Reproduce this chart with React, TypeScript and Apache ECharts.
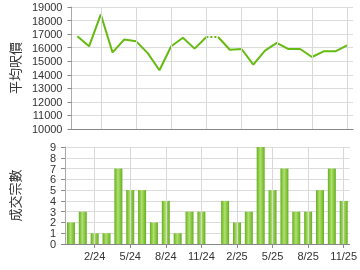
import React, { useEffect, useRef } from "react";
import * as echarts from "echarts";

const months = [
  "12/23", "1/24", "2/24", "3/24", "4/24", "5/24", "6/24", "7/24", "8/24", "9/24", "10/24", "11/24",
  "12/24", "1/25", "2/25", "3/25", "4/25", "5/25", "6/25", "7/25", "8/25", "9/25", "10/25", "11/25",
];
const avgPrice: (number | null)[] = [
  16850, 16100, 18450, 15650, 16600, 16480, 15600, 14330, 16100, 16730, 15930, 16790,
  16790, 15850, 15900, 14750, 15780, 16350, 15900, 15900, 15310, 15730, 15730, 16170,
];
const deals = [2, 3, 1, 1, 7, 5, 5, 2, 4, 1, 3, 3, 0, 4, 2, 3, 9, 5, 7, 3, 3, 5, 7, 4];
const carriedIndex = 12; // month with no deals: price carried over (dotted)
const gridMonths = [2, 5, 8, 11, 14, 17, 20, 23]; // category indexes with vertical grid lines
const dealsMax = 9;

const lineColor = "#66bb11";
const font = "Liberation Sans";

export default function App() {
  const ref = useRef<HTMLDivElement>(null);
  useEffect(() => {
    if (!ref.current) return;
    const chart = echarts.init(ref.current, null, { renderer: "svg" });
    const showIdx = (i: number) => (i - 2) % 3 === 0;
    const solidA = avgPrice.map((v, i) => (i < carriedIndex ? v : null));
    const solidB = avgPrice.map((v, i) => (i >= carriedIndex ? v : null));
    const dotted = avgPrice.map((v, i) => (i === carriedIndex - 1 || i === carriedIndex ? v : null));
    const xBase = {
      type: "category",
      data: months,
      boundaryGap: true,
      axisLine: { show: true, lineStyle: { color: "#888", width: 1 } },
      axisTick: { show: true, interval: showIdx, alignWithLabel: true, length: 4, lineStyle: { color: "#888" } },
      splitLine: { show: false },
    };
    const labelStyle = {
      fontSize: 11, color: "#333", fontFamily: font, margin: 9,
      formatter: (v: number) => String(v),
    };
    const yBase = {
      type: "value",
      nameLocation: "middle",
      nameRotate: 90,
      nameTextStyle: { fontSize: 13, color: "#333", fontFamily: "Noto Sans CJK TC" },
      axisLine: { show: true, lineStyle: { color: "#aaa" } },
      axisTick: { show: true, length: 4, lineStyle: { color: "#888" } },
      axisLabel: { ...labelStyle, showMinLabel: true, showMaxLabel: true },
      splitLine: { show: true, lineStyle: { color: "#dcdcdc", width: 1 } },
    };
    const vLines = (axisIdx: number, yIdx: number) => ({
      type: "line", xAxisIndex: axisIdx, yAxisIndex: yIdx, data: [], z: 1, silent: true,
      markLine: {
        silent: true, symbol: "none", label: { show: false }, animation: false,
        lineStyle: { color: "#d8d8d8", width: 1, type: "solid" },
        data: gridMonths.map((i) => ({ xAxis: i })),
      },
    });
    chart.setOption({
      animation: false,
      grid: [
        { left: 65, right: 7, top: 7, height: 122 },
        { left: 65, right: 7, top: 147, height: 97 },
      ],
      xAxis: [
        { ...xBase, gridIndex: 0, axisLabel: { show: false }, axisTick: { show: false } },
        {
          ...xBase,
          gridIndex: 1,
          axisLabel: { show: true, interval: showIdx, fontSize: 11, color: "#333", fontFamily: font, margin: 6 },
        },
      ],
      yAxis: [
        { ...yBase, gridIndex: 0, min: 10000, max: 19000, interval: 1000, name: "平均呎價", nameGap: 46 },
        {
          ...yBase, gridIndex: 1, min: 0, max: dealsMax, interval: 1, name: "成交宗數", nameGap: 44,
          axisLabel: { ...labelStyle, showMinLabel: false, showMaxLabel: false },
        },
        {
          type: "value", gridIndex: 1, position: "left", min: 0, max: dealsMax, interval: dealsMax,
          axisLine: { show: false },
          axisTick: { show: true, length: 4, lineStyle: { color: "#888" } },
          axisLabel: { ...labelStyle, showMinLabel: true, showMaxLabel: true },
          splitLine: { show: true, lineStyle: { color: "#dcdcdc", width: 1 } },
        },
      ],
      series: [
        vLines(0, 0),
        vLines(1, 1),
        {
          type: "line", xAxisIndex: 0, yAxisIndex: 0, data: solidA, symbol: "none", z: 3,
          lineStyle: { color: lineColor, width: 2 }, connectNulls: false,
        },
        {
          type: "line", xAxisIndex: 0, yAxisIndex: 0, data: solidB, symbol: "none", z: 3,
          lineStyle: { color: lineColor, width: 2 }, connectNulls: false,
        },
        {
          type: "line", xAxisIndex: 0, yAxisIndex: 0, data: dotted, symbol: "none", z: 3,
          lineStyle: { color: lineColor, width: 2, type: [2, 2] }, connectNulls: false,
        },
        {
          type: "bar", xAxisIndex: 1, yAxisIndex: 1, data: deals, barWidth: 8, z: 3,
          itemStyle: {
            color: new echarts.graphic.LinearGradient(0, 0, 1, 0, [
              { offset: 0, color: "#64b01c" },
              { offset: 0.45, color: "#b0e070" },
              { offset: 1, color: "#64b01c" },
            ]),
            borderWidth: 0,
          },
        },
      ],
    });
    return () => chart.dispose();
  }, []);
  return <div ref={ref} style={{ position: "fixed", left: 0, top: 0, width: 360, height: 270 }} />;
}
